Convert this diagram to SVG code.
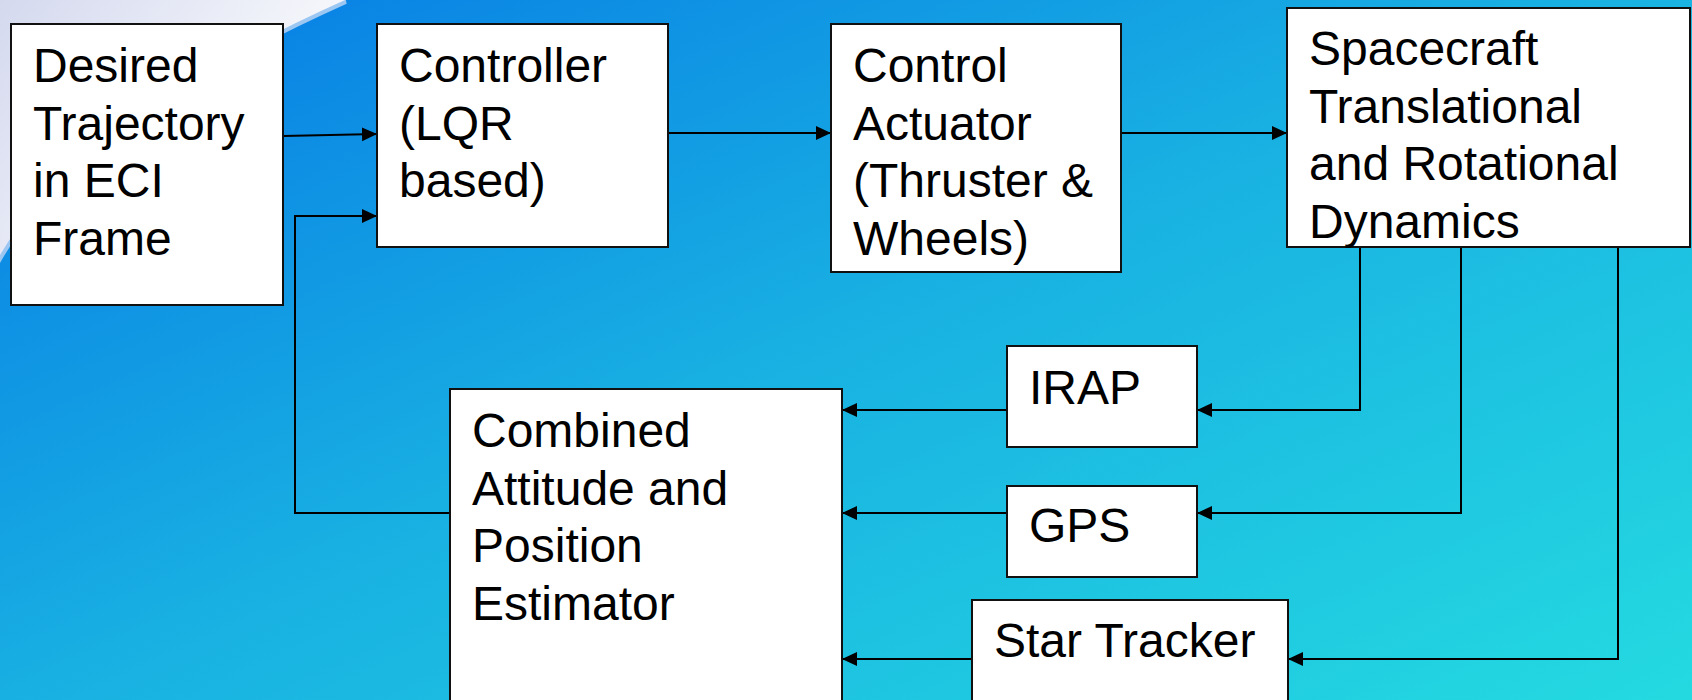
<svg xmlns="http://www.w3.org/2000/svg" width="1692" height="700" viewBox="0 0 1692 700">
  <defs>
    <linearGradient id="bg" gradientUnits="userSpaceOnUse" x1="0" y1="0" x2="553" y2="1218">
      <stop offset="0" stop-color="#0377e8"/>
      <stop offset="0.15" stop-color="#0c8ae4"/>
      <stop offset="0.5" stop-color="#19b2e2"/>
      <stop offset="1" stop-color="#24dae0"/>
    </linearGradient>
    <linearGradient id="glare" gradientUnits="userSpaceOnUse" x1="0" y1="0" x2="220" y2="160">
      <stop offset="0" stop-color="#d4d9ee"/>
      <stop offset="1" stop-color="#f5f6fb"/>
    </linearGradient>
    <marker id="arrow" markerUnits="userSpaceOnUse" markerWidth="16" markerHeight="16" viewBox="0 0 16 16" refX="15" refY="8" orient="auto">
      <path d="M0,1 L15,8 L0,15 Z" fill="#000"/>
    </marker>
    <style>
      .box { fill: #ffffff; stroke: #111111; stroke-width: 2; }
      .lbl { font-family: "Liberation Sans", Arial, sans-serif; font-size: 48px; fill: #000000; }
      .wire { fill: none; stroke: #000000; stroke-width: 2; marker-end: url(#arrow); }
    </style>
  </defs>

  <!-- backdrop -->
  <rect x="0" y="0" width="1692" height="700" fill="url(#bg)"/>
  <path d="M0,0 H345 Q78,120 0,255 Z" fill="none" stroke="#9cc7f2" stroke-width="8"/>
  <path d="M0,0 H345 Q78,120 0,255 Z" fill="url(#glare)"/>

  <!-- connectors -->
  <g id="connectors">
    <path class="wire" d="M283,136 L377,134"/>
    <path class="wire" d="M450,513 H295 V216 H377"/>
    <path class="wire" d="M668,133 H831"/>
    <path class="wire" d="M1121,133 H1287"/>
    <path class="wire" d="M1360,247 V410 H1197"/>
    <path class="wire" d="M1461,247 V513 H1197"/>
    <path class="wire" d="M1618,247 V659 H1288"/>
    <path class="wire" d="M1007,410 H842"/>
    <path class="wire" d="M1007,513 H842"/>
    <path class="wire" d="M979,659 H842"/>
  </g>

  <g id="desired">
    <rect class="box" x="11" y="24" width="272" height="281"/>
    <text class="lbl" x="33" y="82">Desired</text>
    <text class="lbl" x="33" y="139.6">Trajectory</text>
    <text class="lbl" x="33" y="197.2">in ECI</text>
    <text class="lbl" x="33" y="254.8">Frame</text>
  </g>

  <g id="controller">
    <rect class="box" x="377" y="24" width="291" height="223"/>
    <text class="lbl" x="399" y="82">Controller</text>
    <text class="lbl" x="399" y="139.6">(LQR</text>
    <text class="lbl" x="399" y="197.2">based)</text>
  </g>

  <g id="actuator">
    <rect class="box" x="831" y="24" width="290" height="248"/>
    <text class="lbl" x="853" y="82">Control</text>
    <text class="lbl" x="853" y="139.6">Actuator</text>
    <text class="lbl" x="853" y="197.2">(Thruster &amp;</text>
    <text class="lbl" x="853" y="254.8">Wheels)</text>
  </g>

  <g id="dynamics">
    <rect class="box" x="1287" y="8" width="403" height="239"/>
    <text class="lbl" x="1309" y="65">Spacecraft</text>
    <text class="lbl" x="1309" y="122.6">Translational</text>
    <text class="lbl" x="1309" y="180.2">and Rotational</text>
    <text class="lbl" x="1309" y="237.8">Dynamics</text>
  </g>

  <g id="irap">
    <rect class="box" x="1007" y="346" width="190" height="101"/>
    <text class="lbl" x="1029" y="404">IRAP</text>
  </g>

  <g id="gps">
    <rect class="box" x="1007" y="486" width="190" height="91"/>
    <text class="lbl" x="1029" y="542">GPS</text>
  </g>

  <g id="star-tracker">
    <rect class="box" x="972" y="600" width="316" height="130"/>
    <text class="lbl" x="994" y="657">Star Tracker</text>
  </g>

  <g id="estimator">
    <rect class="box" x="450" y="389" width="392" height="341"/>
    <text class="lbl" x="472" y="447">Combined</text>
    <text class="lbl" x="472" y="504.6">Attitude and</text>
    <text class="lbl" x="472" y="562.2">Position</text>
    <text class="lbl" x="472" y="619.8">Estimator</text>
  </g>
</svg>
